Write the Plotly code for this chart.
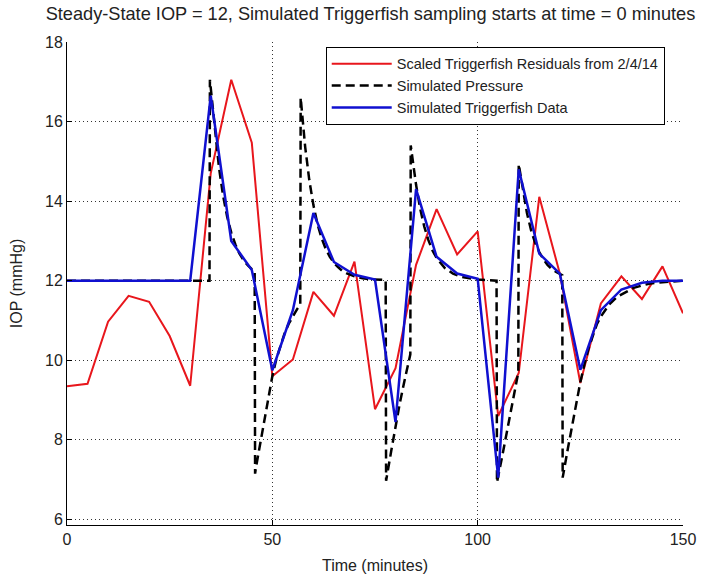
import plotly.graph_objects as go

# Scaled Triggerfish residuals (red), every 5 minutes
red_t = [0, 5, 10, 15, 20, 25, 30, 35, 40, 45, 50, 55, 60, 65, 70, 75, 80, 85, 90, 95,
         100, 105, 110, 115, 120, 125, 130, 135, 140, 145, 150]
red_v = [9.35, 9.41, 10.97, 11.62, 11.47, 10.61, 9.36, 14.7, 17.05, 15.47, 9.6, 10.02, 11.72,
         11.12, 12.48, 8.77, 9.8, 12.4, 13.8, 12.66, 13.24, 8.6, 9.68, 14.11, 12.18, 9.43,
         11.43, 12.11, 11.54, 12.36, 11.18]

# Simulated pressure (black dashed)
blk_t = [0, 34.7, 34.8, 36, 37, 38, 39, 40, 41, 42, 43, 44, 45, 45.7, 45.8, 46, 47, 48, 49, 50,
         51, 52, 53, 54, 55, 56, 56.8, 56.9, 58, 59, 60, 61, 62, 63, 64, 65, 66, 67, 68, 70,
         72, 74, 77.6, 77.7, 79, 80, 81, 82, 83, 83.6, 83.7, 85, 86, 87, 88, 89, 90, 91, 92,
         94, 96, 98, 100, 104.6, 104.7, 106, 107, 108, 109, 109.9, 110.0, 111, 112, 113, 114,
         115, 116, 117, 118, 119, 120, 120.6, 120.7, 121, 122, 123, 124, 125, 126, 127, 128,
         129, 130, 132, 134, 136, 138, 140, 142, 145, 150]
blk_v = [12.0, 12.0, 17.05, 15.79, 14.85, 14.14, 13.61, 13.21, 12.91, 12.68, 12.51, 12.39,
         12.29, 12.25, 7.15, 7.3, 7.9, 8.45, 9.05, 9.6, 10.04, 10.39, 10.68, 10.92, 11.12,
         11.28, 11.4, 16.6, 15.36, 14.53, 13.9, 13.42, 13.07, 12.8, 12.6, 12.45, 12.34,
         12.25, 12.19, 12.11, 12.06, 12.03, 12.02, 6.97, 7.75, 8.35, 8.9, 9.4, 9.85, 10.15,
         15.4, 14.41, 13.81, 13.36, 13.02, 12.76, 12.57, 12.43, 12.32, 12.18, 12.1, 12.06,
         12.03, 12.0, 6.93, 7.6, 8.15, 8.75, 9.25, 9.7, 14.93, 14.27, 13.7, 13.27, 12.95,
         12.72, 12.54, 12.4, 12.3, 12.23, 12.17, 12.14, 7.05, 7.25, 7.8, 8.35, 8.95, 9.45,
         9.9, 10.3, 10.6, 10.9, 11.1, 11.4, 11.6, 11.72, 11.82, 11.88, 11.93, 11.96, 12.0]

# Simulated Triggerfish data (blue), every 5 minutes
blu_t = [0, 5, 10, 15, 20, 25, 30, 35, 40, 45, 50, 55, 60, 65, 70, 75, 80, 85, 90, 95,
         100, 105, 110, 115, 120, 125, 130, 135, 140, 145, 150]
blu_v = [12, 12, 12, 12, 12, 12, 12, 16.65, 13.0, 12.27, 9.75, 11.26, 13.7, 12.47, 12.15,
         12.03, 8.45, 14.3, 12.6, 12.18, 12.05, 7.05, 14.8, 12.68, 12.18, 9.76, 11.26, 11.78,
         11.95, 12.0, 12.0]

x_ticks = [0, 50, 100, 150]
y_ticks = [6, 8, 10, 12, 14, 16, 18]

FONT = "Liberation Sans, Arial, sans-serif"
TXT = "#222222"

fig = go.Figure()
fig.add_trace(go.Scatter(x=red_t, y=red_v, mode="lines", name="Scaled Triggerfish Residuals from 2/4/14",
                         line=dict(color="#e8161c", width=2)))
fig.add_trace(go.Scatter(x=blk_t, y=blk_v, mode="lines", name="Simulated Pressure",
                         line=dict(color="black", width=2.5, dash="9px,5px")))
fig.add_trace(go.Scatter(x=blu_t, y=blu_v, mode="lines", name="Simulated Triggerfish Data",
                         line=dict(color="#1010d0", width=2.5)))

axis_common = dict(
    showgrid=True, gridcolor="#333333", gridwidth=1, griddash="1px,3px",
    showline=True, linecolor="black", linewidth=1, ticks="inside", ticklen=5,
    tickcolor="black", zeroline=False, mirror=False, automargin=False,
    tickfont=dict(family=FONT, size=16, color=TXT),
)

fig.update_layout(
    width=703, height=575,
    margin=dict(l=67, r=20, t=42, b=50),
    paper_bgcolor="white", plot_bgcolor="white",
    title=dict(text="Steady-State IOP = 12, Simulated Triggerfish sampling starts at time = 0 minutes",
               x=0.527, xanchor="center", y=0.976, yanchor="middle", yref="container",
               font=dict(family=FONT, size=18.2, color=TXT)),
    xaxis=dict(range=[0, 150], tickvals=x_ticks,
               title=dict(text="Time (minutes)", standoff=12, font=dict(family=FONT, size=16, color=TXT)),
               **axis_common),
    yaxis=dict(range=[5.86, 18], tickvals=y_ticks,
               title=dict(text="IOP (mmHg)", standoff=18, font=dict(family=FONT, size=16, color=TXT)),
               **axis_common),
    legend=dict(x=0.42, y=0.99, xanchor="left", yanchor="top", bgcolor="white",
                bordercolor="black", borderwidth=1, itemwidth=60,
                font=dict(family=FONT, size=14.5, color=TXT)),
    showlegend=True,
)

fig.write_html("out.html", config={"displayModeBar": False},
               post_script="document.body.style.margin='0px';")
